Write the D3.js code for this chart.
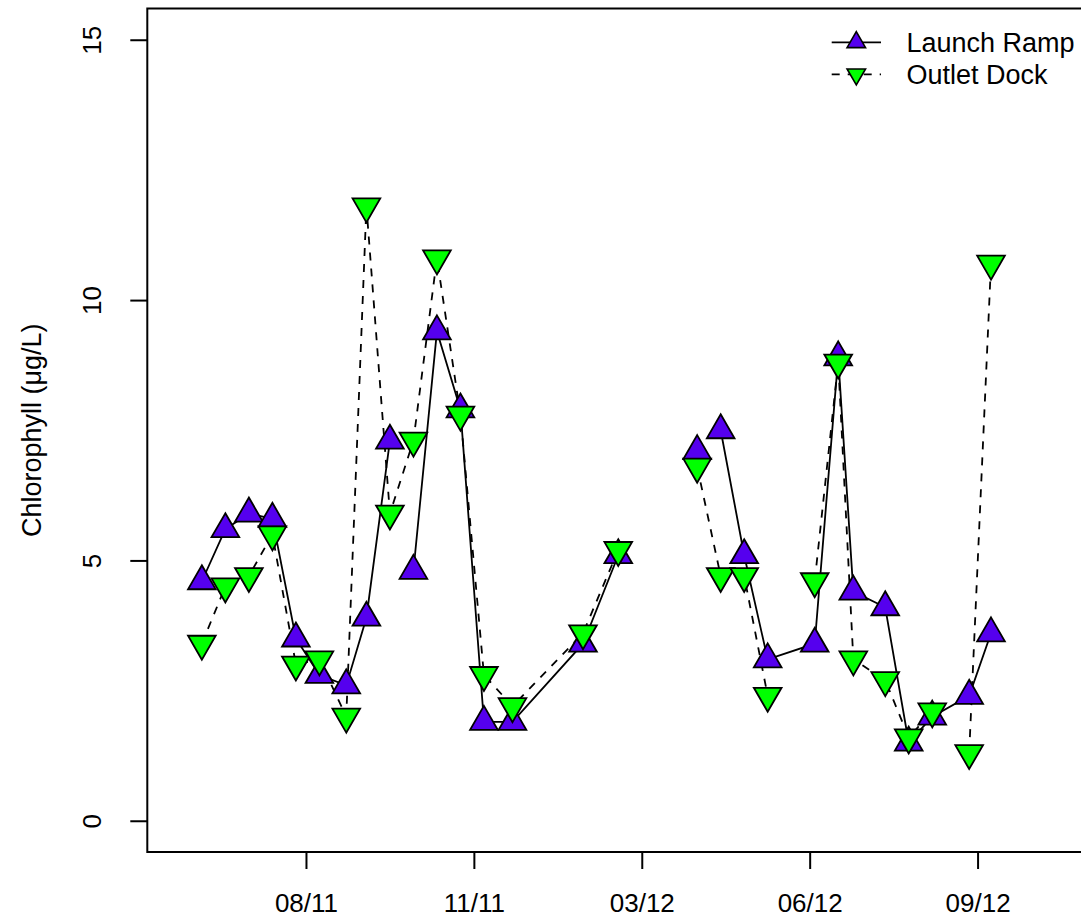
<!DOCTYPE html>
<html>
<head>
<meta charset="utf-8">
<script src="https://cdn.jsdelivr.net/npm/d3@7/dist/d3.min.js"></script>
<style>
body { margin: 0; background: #fff; }
text { font-family: "Liberation Sans", Arial, Helvetica, sans-serif; }
</style>
</head>
<body>
<svg width="1081" height="919"></svg>
<script>
// sampling dates + chlorophyll (ug/L), null = missing sample (breaks the line)
var rampDates = ["2011-06-13","2011-06-27","2011-07-11","2011-07-25","2011-08-08","2011-08-22",
    "2011-09-07","2011-09-19","2011-10-03","2011-10-10","2011-10-17","2011-10-31","2011-11-14",
    "2011-11-28","2011-12-15","2012-01-26","2012-02-16","2012-03-10","2012-04-03","2012-04-10",
    "2012-04-17","2012-05-01","2012-05-15","2012-06-12","2012-06-26","2012-07-05","2012-07-24",
    "2012-08-07","2012-08-21","2012-09-12","2012-09-25"];
var rampChl = [4.6, 5.6, 5.9, 5.8, 3.5, 2.8,
    2.6, 3.9, 7.3, null, 4.8, 9.4, 7.9,
    1.9, 1.9, 3.4, 5.1, null, 7.1, null,
    7.5, 5.1, 3.1, 3.4, 8.9, 4.4, 4.1,
    1.5, 2.0, 2.4, 3.6];

var dockDates = ["2011-06-13","2011-06-27","2011-07-11","2011-07-25","2011-08-08","2011-08-22",
    "2011-09-07","2011-09-19","2011-10-03","2011-10-17","2011-10-31","2011-11-14",
    "2011-11-28","2011-12-15","2012-01-26","2012-02-16","2012-03-10","2012-04-03",
    "2012-04-17","2012-05-01","2012-05-15","2012-05-29","2012-06-12","2012-06-26","2012-07-05","2012-07-24",
    "2012-08-07","2012-08-21","2012-09-01","2012-09-12","2012-09-25"];
var dockChl = [3.4, 4.5, 4.7, 5.5, 3.0, 3.1,
    2.0, 11.8, 5.9, 7.3, 10.8, 7.8,
    2.8, 2.2, 3.6, 5.2, null, 6.8,
    4.7, 4.7, 2.4, null, 4.6, 8.8, 3.1, 2.7,
    1.6, 2.1, null, 1.3, 10.7];

var seriesNames = ["Launch Ramp", "Outlet Dock"];
var seriesFill = ["#5500ee", "#00ff00"];
var seriesDash = [null, "8,8"];

var xTickDates = ["2011-08-14","2011-11-22","2012-03-01","2012-06-09","2012-09-17"];
var yTicks = [0, 5, 10, 15];
var xlim = ["2011-05-11T12:00:00Z", "2012-11-18T19:00:00Z"];
var ylim = [-0.6, 15.6];

var svg = d3.select("svg");
var parse = d3.utcParse("%Y-%m-%d");

var plotL = 147.3, plotR = 1083, plotT = 8.5, plotB = 852;
var fs = 26;

var x = d3.scaleUtc().domain([new Date(xlim[0]), new Date(xlim[1])]).range([plotL, plotR]);
var y = d3.scaleLinear().domain(ylim).range([plotB, plotT]);

function makeSeries(dates, vals){
    return dates.map(function(d,i){ return {date: parse(d), v: vals[i]}; });
}
var series = [makeSeries(rampDates, rampChl), makeSeries(dockDates, dockChl)];

var line = d3.line()
    .defined(function(d){ return d.v != null; })
    .x(function(d){ return x(d.date); })
    .y(function(d){ return y(d.v); });

// lines first, then the points on top
series.forEach(function(s, k){
    svg.append("path")
        .datum(s)
        .attr("d", line)
        .attr("fill", "none")
        .attr("stroke", "#000")
        .attr("stroke-width", 1.8)
        .attr("stroke-dasharray", seriesDash[k]);
});

var bigTri = d3.symbol(d3.symbolTriangle, 332);
var smallTri = d3.symbol(d3.symbolTriangle, 148);

series.forEach(function(s, k){
    svg.append("g")
        .selectAll("path")
        .data(s.filter(function(d){ return d.v != null; }))
        .enter()
        .append("path")
        .attr("d", bigTri)
        .attr("transform", function(d){
            return "translate(" + x(d.date) + "," + y(d.v) + ")" + (k == 1 ? " rotate(180)" : "");
        })
        .attr("fill", seriesFill[k])
        .attr("stroke", "#000")
        .attr("stroke-width", 1.8)
        .attr("stroke-linejoin", "miter");
});

// box
svg.append("rect")
    .attr("x", plotL).attr("y", plotT)
    .attr("width", plotR - plotL).attr("height", plotB - plotT)
    .attr("fill", "none")
    .attr("stroke", "#000")
    .attr("stroke-width", 2);

// x axis
var xAxis = svg.append("g")
    .attr("transform", "translate(0," + plotB + ")")
    .call(d3.axisBottom(x)
        .tickValues(xTickDates.map(parse))
        .tickFormat(d3.utcFormat("%m/%y"))
        .tickSize(17));
xAxis.select(".domain").remove();
xAxis.selectAll("line").attr("stroke", "#000").attr("stroke-width", 2);
xAxis.selectAll("text")
    .attr("y", 59.5)
    .attr("dy", null)
    .attr("fill", "#000")
    .style("font-size", fs + "px")
    .style("font-family", "'Liberation Sans', Arial, sans-serif");

// y axis (labels turned like R's las=0)
var yAxis = svg.append("g")
    .attr("transform", "translate(" + plotL + ",0)")
    .call(d3.axisLeft(y).tickValues(yTicks).tickSize(17));
yAxis.select(".domain").remove();
yAxis.selectAll("line").attr("stroke", "#000").attr("stroke-width", 2);
yAxis.selectAll("text")
    .attr("x", null)
    .attr("dy", null)
    .attr("text-anchor", "middle")
    .attr("transform", "translate(-46,0) rotate(-90)")
    .attr("fill", "#000")
    .style("font-size", fs + "px")
    .style("font-family", "'Liberation Sans', Arial, sans-serif");

svg.append("text")
    .attr("transform", "translate(41," + ((plotT + plotB) / 2) + ") rotate(-90)")
    .attr("text-anchor", "middle")
    .style("font-size", "27px")
    .text("Chlorophyll (\u03bcg/L)");

// legend, top right
var legY = [42.3, 74.3];
seriesNames.forEach(function(name, k){
    var g = svg.append("g").attr("transform", "translate(0," + legY[k] + ")");
    g.append("line")
        .attr("x1", 831.7).attr("x2", 881)
        .attr("stroke", "#000")
        .attr("stroke-width", 1.8)
        .attr("stroke-dasharray", seriesDash[k]);
    g.append("path")
        .attr("d", smallTri)
        .attr("transform", "translate(856.3,0)" + (k == 1 ? " rotate(180)" : ""))
        .attr("fill", seriesFill[k])
        .attr("stroke", "#000")
        .attr("stroke-width", 1.6);
    g.append("text")
        .attr("x", 906.5)
        .attr("dy", "0.36em")
        .style("font-size", "27px")
        .text(name);
});
</script>
</body>
</html>
